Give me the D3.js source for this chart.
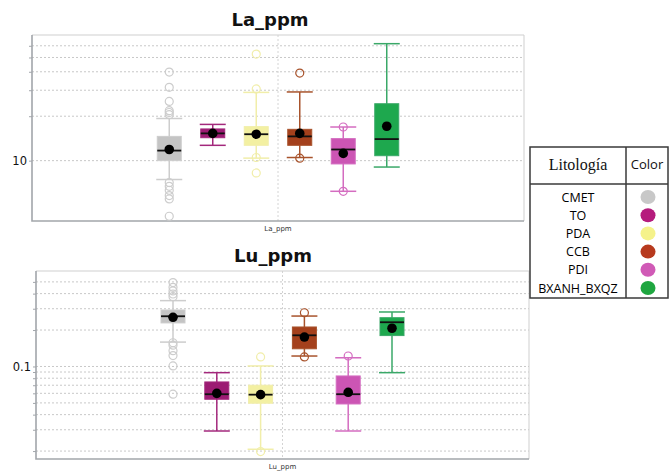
<!DOCTYPE html>
<html>
<head>
<meta charset="utf-8">
<script src="https://cdn.jsdelivr.net/npm/d3@7"></script>
<style>
  body { margin: 0; background: #fff; }
  svg { display: block; }
</style>
</head>
<body>
<svg id="chart" width="670" height="472"></svg>
<script>
// Lithology categories (same order in both panels and in the legend)
const lithologies = ['CMET', 'TO', 'PDA', 'CCB', 'PDI', 'BXANH_BXQZ'];

// Colours per lithology: box fill, whisker/outlier stroke, legend dot
const boxColors = ['#c4c4c4', '#9c1c73', '#f3f0a2', '#a4401c', '#cc55b4', '#1ea84e'];
const lineColors = ['#cdcdcd', '#a3287c', '#f1eeaa', '#a8532c', '#d46cc0', '#3aa868'];
const dotColors = ['#c8c8c8', '#b51c7d', '#f5f28a', '#b73a1e', '#d05ab6', '#1fa640'];

// La_ppm box statistics
const laLow = [7.45, 12.7, 10.4, 10.5, 6.2, 9.05];
const laQ1 = [10.0, 14.3, 12.7, 12.7, 9.5, 10.8];
const laMedian = [11.7, 15.3, 15.1, 14.6, 11.9, 14.0];
const laQ3 = [14.6, 16.4, 17.0, 16.3, 14.1, 24.3];
const laHigh = [19.3, 17.6, 29.0, 29.2, 16.9, 62];
const laMean = [11.9, 15.3, 15.1, 15.3, 11.2, 17.1];
const laOutliers = [
  [39.8, 31.4, 25.2, 21.8, 21.2, 20.5, 7.1, 6.7, 6.3, 5.8, 5.5, 4.2],
  [],
  [52.7, 30.6, 10.5, 8.25],
  [39.2, 10.4],
  [16.9, 6.2],
  []
];
const laGrid = [10, 20, 30, 40, 50, 60];
const laTickLabels = [10];
const laDomain = [3.9, 71];

// Lu_ppm box statistics
const luLow = [0.159, 0.0293, 0.0207, 0.122, 0.0293, 0.0889];
const luQ1 = [0.229, 0.0536, 0.0497, 0.140, 0.049, 0.180];
const luMedian = [0.260, 0.059, 0.0585, 0.181, 0.059, 0.232];
const luQ3 = [0.293, 0.0745, 0.070, 0.212, 0.0835, 0.253];
const luHigh = [0.350, 0.0889, 0.101, 0.261, 0.118, 0.282];
const luMean = [0.255, 0.060, 0.0585, 0.175, 0.0612, 0.207];
const luOutliers = [
  [0.493, 0.451, 0.421, 0.397, 0.377, 0.157, 0.150, 0.135, 0.123, 0.101, 0.059],
  [],
  [0.12, 0.0198],
  [0.278, 0.12],
  [0.122],
  []
];
const luGrid = [0.02, 0.03, 0.04, 0.05, 0.06, 0.07, 0.08, 0.09, 0.1, 0.2, 0.3, 0.4, 0.5];
const luTickLabels = [0.1];
const luDomain = [0.0172, 0.615];

const svg = d3.select('#chart');

/**
 * Draws one box-plot panel with a log y axis.
 */
function drawPanel(cfg) {
  const g = svg.append('g');

  const rows = lithologies.map((name, i) => ({
    name,
    color: boxColors[i],
    line: lineColors[i],
    low: cfg.low[i], q1: cfg.q1[i], median: cfg.median[i],
    q3: cfg.q3[i], high: cfg.high[i], mean: cfg.mean[i],
    outliers: cfg.outliers[i]
  }));

  const y = d3.scaleLog()
    .domain(cfg.domain)
    .range([cfg.bottom, cfg.top]);

  const center = (cfg.left + cfg.right) / 2;
  const x = d3.scaleBand()
    .domain(lithologies)
    .range([center - 3 * cfg.step, center + 3 * cfg.step]);

  const boxW = 24;

  // Dotted grid lines
  g.append('g')
    .selectAll('line')
    .data(cfg.grid)
    .enter().append('line')
    .attr('x1', cfg.left)
    .attr('x2', cfg.right)
    .attr('y1', d => y(d))
    .attr('y2', d => y(d))
    .attr('stroke', '#c8c8c8')
    .attr('stroke-width', 1)
    .attr('stroke-dasharray', '2,2');

  // Central vertical dotted line
  g.append('line')
    .attr('x1', center).attr('x2', center)
    .attr('y1', cfg.top).attr('y2', cfg.bottom)
    .attr('stroke', '#d4d4d4')
    .attr('stroke-dasharray', '2,2');

  // Frame: light top/right, darker left/bottom
  g.append('path')
    .attr('d', `M${cfg.left},${cfg.top}H${cfg.right}V${cfg.bottom}`)
    .attr('fill', 'none')
    .attr('stroke', '#cfcfcf')
    .attr('stroke-width', 1);

  g.append('path')
    .attr('d', `M${cfg.left},${cfg.top}V${cfg.bottom}H${cfg.right}`)
    .attr('fill', 'none')
    .attr('stroke', '#a2a6ab')
    .attr('stroke-width', 1.6);

  // Y axis (ticks only, labels for selected values)
  const axis = d3.axisLeft(y)
    .tickValues(cfg.grid)
    .tickSize(3)
    .tickPadding(2)
    .tickFormat(d => cfg.tickLabels.includes(d) ? String(d) : '');

  const axisG = g.append('g')
    .attr('transform', `translate(${cfg.left},0)`)
    .call(axis);
  axisG.select('.domain').remove();
  axisG.selectAll('.tick line').attr('stroke', '#a2a6ab');
  axisG.selectAll('.tick text')
    .attr('fill', '#111')
    .style('font-family', '"DejaVu Sans", Verdana, sans-serif')
    .style('font-size', '11.5px');

  const box = g.append('g')
    .selectAll('g')
    .data(rows)
    .enter().append('g')
    .attr('transform', d => `translate(${x(d.name) + x.bandwidth() / 2},0)`);

  // Whisker stem
  box.append('line')
    .attr('x1', 0).attr('x2', 0)
    .attr('y1', d => y(d.low))
    .attr('y2', d => y(d.high))
    .attr('stroke', d => d.line)
    .attr('stroke-width', 1.5);

  // Whisker caps
  box.selectAll('.cap')
    .data(d => [d.low, d.high].map(v => ({ v, line: d.line })))
    .enter().append('line')
    .attr('class', 'cap')
    .attr('x1', -boxW / 2 - 1).attr('x2', boxW / 2 + 1)
    .attr('y1', d => y(d.v)).attr('y2', d => y(d.v))
    .attr('stroke', d => d.line)
    .attr('stroke-width', 1.5);

  // Box
  box.append('rect')
    .attr('x', -boxW / 2)
    .attr('width', boxW)
    .attr('y', d => y(d.q3))
    .attr('height', d => y(d.q1) - y(d.q3))
    .attr('fill', d => d.color)
    .attr('stroke', d => d.line)
    .attr('stroke-width', 1);

  // Median
  box.append('line')
    .attr('x1', -boxW / 2).attr('x2', boxW / 2)
    .attr('y1', d => y(d.median)).attr('y2', d => y(d.median))
    .attr('stroke', '#111')
    .attr('stroke-width', 1.8);

  // Outliers
  box.selectAll('.out')
    .data(d => d.outliers.map(v => ({ v, line: d.line })))
    .enter().append('circle')
    .attr('class', 'out')
    .attr('cx', 0)
    .attr('cy', d => y(d.v))
    .attr('r', 4)
    .attr('fill', 'none')
    .attr('stroke', d => d.line)
    .attr('stroke-width', 1.2);

  // Mean
  box.append('circle')
    .attr('cx', 0)
    .attr('cy', d => y(d.mean))
    .attr('r', 4.8)
    .attr('fill', '#000');

  // Title
  svg.append('text')
    .attr('x', cfg.titleX)
    .attr('y', cfg.titleY)
    .attr('text-anchor', 'middle')
    .style('font-family', '"DejaVu Sans", Verdana, sans-serif')
    .style('font-weight', 'bold')
    .style('font-size', '18px')
    .attr('fill', '#111')
    .text(cfg.title);

  // Small x label
  svg.append('text')
    .attr('x', center)
    .attr('y', cfg.bottom + 10)
    .attr('text-anchor', 'middle')
    .style('font-family', '"DejaVu Sans", Verdana, sans-serif')
    .style('font-size', '7px')
    .attr('fill', '#333')
    .text(cfg.title);
}

drawPanel({
  title: 'La_ppm', titleX: 270, titleY: 26,
  left: 32, right: 524, top: 35, bottom: 221, step: 43.5,
  domain: laDomain, grid: laGrid, tickLabels: laTickLabels,
  low: laLow, q1: laQ1, median: laMedian, q3: laQ3, high: laHigh,
  mean: laMean, outliers: laOutliers
});

drawPanel({
  title: 'Lu_ppm', titleX: 273, titleY: 262,
  left: 36, right: 529, top: 271, bottom: 459, step: 43.8,
  domain: luDomain, grid: luGrid, tickLabels: luTickLabels,
  low: luLow, q1: luQ1, median: luMedian, q3: luQ3, high: luHigh,
  mean: luMean, outliers: luOutliers
});

// Legend table
const legend = svg.append('g');
const lx0 = 530, lx1 = 626, lx2 = 668;
const ly0 = 147, ly1 = 184, ly2 = 298;

legend.append('rect')
  .attr('x', lx0).attr('y', ly0)
  .attr('width', lx2 - lx0).attr('height', ly2 - ly0)
  .attr('fill', '#fff')
  .attr('stroke', '#3a3a3a')
  .attr('stroke-width', 1.5);

legend.append('line')
  .attr('x1', lx0).attr('x2', lx2)
  .attr('y1', ly1).attr('y2', ly1)
  .attr('stroke', '#3a3a3a').attr('stroke-width', 1.5);

legend.append('line')
  .attr('x1', lx1).attr('x2', lx1)
  .attr('y1', ly0).attr('y2', ly2)
  .attr('stroke', '#3a3a3a').attr('stroke-width', 1.5);

legend.append('text')
  .attr('x', (lx0 + lx1) / 2).attr('y', 170)
  .attr('text-anchor', 'middle')
  .style('font-family', '"Liberation Serif", "Times New Roman", serif')
  .style('font-size', '16px')
  .attr('fill', '#111')
  .text('Litología');

legend.append('text')
  .attr('x', (lx1 + lx2) / 2).attr('y', 169)
  .attr('text-anchor', 'middle')
  .style('font-family', '"Open Sans", sans-serif')
  .style('font-size', '13px')
  .attr('fill', '#111')
  .text('Color');

const rowY = d3.scalePoint()
  .domain(lithologies)
  .range([197, 288]);

const item = legend.selectAll('.item')
  .data(lithologies)
  .enter().append('g')
  .attr('class', 'item')
  .attr('transform', d => `translate(0,${rowY(d)})`);

item.append('text')
  .attr('x', (lx0 + lx1) / 2)
  .attr('y', 4.5)
  .attr('text-anchor', 'middle')
  .style('font-family', '"Open Sans", sans-serif')
  .style('font-size', '12.5px')
  .attr('fill', '#000')
  .text(d => d);

item.append('ellipse')
  .attr('cx', 648)
  .attr('cy', 0)
  .attr('rx', 7.5)
  .attr('ry', 7)
  .attr('fill', (d, i) => dotColors[i]);
</script>
</body>
</html>
